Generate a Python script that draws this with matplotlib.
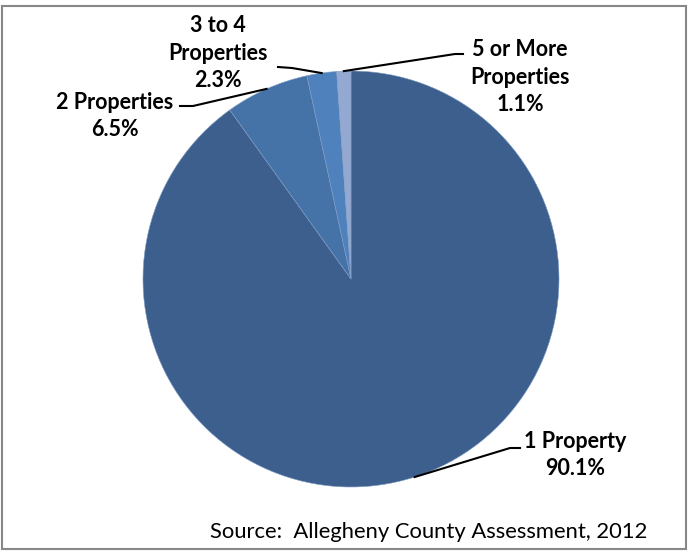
import numpy as np
import matplotlib
matplotlib.use("Agg")
import matplotlib.pyplot as plt
from matplotlib.patches import Rectangle
from matplotlib.lines import Line2D

categories = ["1 Property", "2 Properties", "3 to 4\nProperties", "5 or More\nProperties"]
shares = [90.1, 6.5, 2.3, 1.1]
colors = ["#3D5F8E", "#4572A7", "#4F81BD", "#94A9D1"]
source = "Source:  Allegheny County Assessment, 2012"

W, H = 690, 552
fig = plt.figure(figsize=(W / 100, H / 100), dpi=100)
plt.rcParams['font.family'] = ['Lato', 'DejaVu Sans']

def fx(x):
    return x / W

def fy(y):
    return 1 - y / H

# border
fig.patches.append(Rectangle((fx(1.5), fy(549)), fx(686) - fx(1.5), fy(6) - fy(549),
                             transform=fig.transFigure, fill=False,
                             edgecolor="#888888", linewidth=1.5))

cx, cy, r = 351, 279, 208
ax = fig.add_axes([fx(cx - r), fy(cy + r), 2 * r / W, 2 * r / H])
wedges, _ = ax.pie(shares, colors=colors, startangle=90, counterclock=False,
                   wedgeprops=dict(linewidth=0.4, edgecolor="#7f9cc4"))
ax.set_xlim(-1, 1)
ax.set_ylim(-1, 1)
ax.set_aspect("equal")
ax.axis("off")

def edge_px(w):
    ang = np.deg2rad((w.theta1 + w.theta2) / 2)
    return cx + r * np.cos(ang), cy - r * np.sin(ang)

# label layout: (leader points excluding pie edge, text anchor, ha)
layouts = [
    ([(510, 448), (520, 448)], (575, 455), "center"),
    ([(193, 106), (180, 106)], (115, 116), "center"),
    ([(292, 68), (278, 67)], (218, 53), "center"),
    ([(455, 54), (463, 54)], (520, 77), "center"),
]
for w, cat, pct, (pts, (tx, ty), ha) in zip(wedges, categories, shares, layouts):
    ex, ey = edge_px(w)
    xs = [ex] + [p[0] for p in pts]
    ys = [ey] + [p[1] for p in pts]
    fig.add_artist(Line2D([fx(x) for x in xs], [fy(y) for y in ys],
                          transform=fig.transFigure, color="black", linewidth=1.5))
    fig.text(fx(tx), fy(ty), f"{cat}\n{pct:.1f}%", ha=ha, va="center",
             fontsize=15.5, fontweight="bold", linespacing=1.36)

fig.text(fx(647), fy(532), source, ha="right", va="center", fontsize=15.8)

fig.savefig("out.png", dpi=100, facecolor="white")
